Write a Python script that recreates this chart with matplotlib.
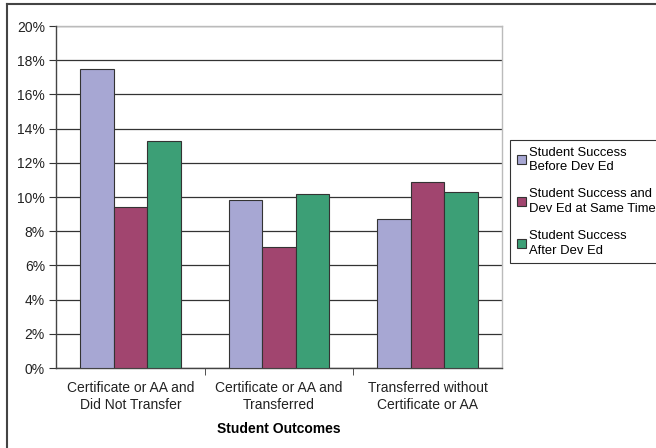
import matplotlib.pyplot as plt
from matplotlib.lines import Line2D
from matplotlib.ticker import PercentFormatter
import numpy as np

plt.rcParams['font.family'] = ['Liberation Sans', 'DejaVu Sans']

# -------------------- Data --------------------
categories = ["Certificate or AA and\nDid Not Transfer",
              "Certificate or AA and\nTransferred",
              "Transferred without\nCertificate or AA"]
series_names = ["Student Success\nBefore Dev Ed",
                "Student Success and\nDev Ed at Same Time",
                "Student Success\nAfter Dev Ed"]
before = [17.5, 9.8, 8.7]
same_time = [9.4, 7.1, 10.85]
after = [13.3, 10.2, 10.3]
colors = ["#A7A7D3", "#A1456F", "#3C9F76"]

# -------------------- Figure --------------------
W, H = 656, 448
fig = plt.figure(figsize=(W / 100, H / 100), dpi=100)
ax = fig.add_axes([56 / W, 1 - 368 / H, (502 - 56) / W, (368 - 26) / H])

x = np.arange(len(categories))
bw = 0.225
for k, vals in enumerate([before, same_time, after]):
    ax.bar(x + (k - 1) * bw, vals, bw, color=colors[k], edgecolor="#333333",
           linewidth=0.8, label=series_names[k], zorder=3)

ax.set_xlim(-0.5, 2.5)
ax.set_ylim(0, 20)
ax.set_yticks(np.arange(0, 21, 2))
ax.yaxis.set_major_formatter(PercentFormatter(decimals=0))
ax.set_xticks(x)
ax.set_xticklabels(categories, fontsize=10, color="#222222", linespacing=1.35)
ax.set_xticks([0.5, 1.5], minor=True)
ax.tick_params(axis='x', which='major', length=0, pad=9)
ax.tick_params(axis='x', which='minor', length=5, direction='out', color="#333333")
ax.tick_params(axis='y', labelsize=10, labelcolor="#222222", length=5,
               direction='out', color="#333333", pad=3)
ax.grid(axis='y', color="#333333", linewidth=0.9, zorder=0)
ax.set_xlabel("Student Outcomes", fontsize=10, fontweight='bold', labelpad=7)

for s in ['left', 'bottom']:
    ax.spines[s].set_color("#444444")
    ax.spines[s].set_linewidth(1)
for s in ['top', 'right']:
    ax.spines[s].set_color("#BBBBBB")
    ax.spines[s].set_linewidth(1)
ax.spines['left'].set_zorder(4)

leg = fig.legend(loc='upper left', bbox_to_anchor=(510 / W, 1 - 140 / H),
                 fontsize=9.4, frameon=True, fancybox=False, handlelength=0.7,
                 handleheight=0.7, handletextpad=0.25, borderpad=0.5,
                 labelspacing=1.15, borderaxespad=0)
leg.get_frame().set_edgecolor("#000000")
leg.get_frame().set_linewidth(0.8)
for t in leg.get_texts():
    t.set_linespacing(1.3)

# outer chart border (top and left only visible)
fig.add_artist(Line2D([6.5 / W, 1], [1 - 4.5 / H, 1 - 4.5 / H], color="#444444", lw=1.5))
fig.add_artist(Line2D([6.5 / W, 6.5 / W], [0, 1 - 4.5 / H], color="#444444", lw=1.5))

fig.savefig("out.png", dpi=100)
